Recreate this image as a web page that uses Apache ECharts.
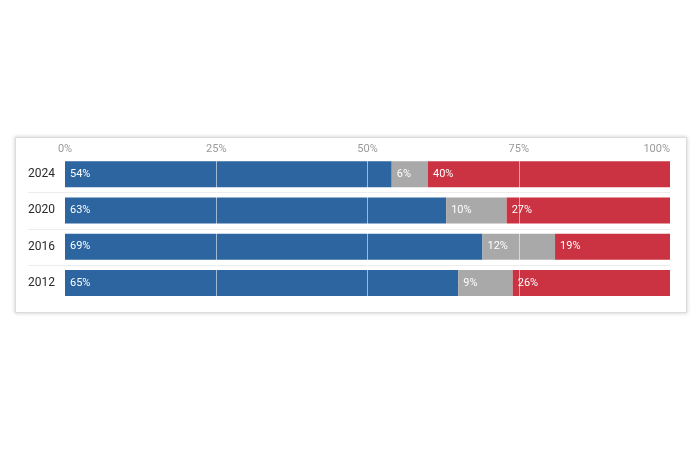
<!DOCTYPE html>
<html>
<head>
<meta charset="utf-8">
<script src="https://cdn.jsdelivr.net/npm/echarts@6/dist/echarts.min.js"></script>
<style>
html,body{margin:0;padding:0;background:#fff;}
#card{position:absolute;left:15px;top:137px;width:670px;height:174px;background:#fff;border:1px solid #dcdcdc;box-shadow:0 0 4px rgba(0,0,0,0.22);}
#main{position:absolute;left:0;top:0;width:700px;height:450px;}
</style>
</head>
<body>
<div id="card"></div>
<div id="main"></div>
<script>
var years = ['2024', '2020', '2016', '2012'];
var blueValues = [54, 63, 69, 65];
var grayValues = [6, 10, 12, 9];
var redValues = [40, 27, 19, 26];
var tickLabels = ['0%', '25%', '50%', '75%', '100%'];
var gridMarks = [25, 50, 75];

var colors = { blue: '#2c659f', gray: '#a9a9a9', red: '#cb3342' };
var font = 'Roboto, "Noto Sans", sans-serif';

var chart = echarts.init(document.getElementById('main'), null, { renderer: 'canvas' });

function mkSeries(name, data, color, extra) {
  var s = {
    name: name,
    type: 'bar',
    stack: 'total',
    data: data,
    barWidth: 26,
    itemStyle: { color: color },
    label: {
      show: true,
      position: 'insideLeft',
      distance: 5,
      color: '#ffffff',
      fontSize: 11,
      fontFamily: font,
      formatter: function (p) { return p.value + '%'; }
    }
  };
  if (extra) Object.assign(s, extra);
  return s;
}

var option = {
  animation: false,
  backgroundColor: 'transparent',
  grid: { left: 65, right: 30, top: 156, bottom: 149, containLabel: false },
  xAxis: {
    type: 'value',
    position: 'top',
    min: 0, max: 100, interval: 25,
    axisLine: { show: false },
    axisTick: { show: false },
    splitLine: { show: false },
    axisLabel: {
      color: '#9a9a9a',
      fontSize: 11,
      fontFamily: font,
      margin: 1,
      alignMaxLabel: 'right',
      formatter: function (v) { return tickLabels[v / 25]; }
    }
  },
  yAxis: {
    type: 'category',
    data: years,
    inverse: true,
    axisLine: { show: false },
    axisTick: { show: false },
    splitLine: { show: false },
    axisLabel: { color: '#2a2a2a', fontSize: 12, fontFamily: font, margin: 10 }
  },
  series: [
    mkSeries('blue', blueValues, colors.blue),
    mkSeries('gray', grayValues, colors.gray),
    mkSeries('red', redValues, colors.red, {
      markLine: {
        silent: true,
        symbol: ['none', 'none'],
        label: { show: false },
        lineStyle: { color: 'rgba(255,255,255,0.55)', width: 1, type: 'solid' },
        z: 10,
        data: gridMarks.map(function (v) { return { xAxis: v }; })
      }
    })
  ]
};
chart.setOption(option);

// separator lines between rows, derived from the category axis
var centers = years.map(function (y, i) { return chart.convertToPixel({ yAxisIndex: 0 }, i); });
var x0 = 28;
var x1 = chart.convertToPixel({ xAxisIndex: 0 }, 100);
var graphics = [];
for (var i = 0; i < centers.length - 1; i++) {
  var yy = Math.round((centers[i] + centers[i + 1]) / 2) + 0.5;
  graphics.push({
    type: 'line', z: -1, silent: true,
    shape: { x1: x0, y1: yy, x2: x1, y2: yy },
    style: { stroke: '#ececec', lineWidth: 1 }
  });
}
chart.setOption({ graphic: graphics });
</script>
</body>
</html>
